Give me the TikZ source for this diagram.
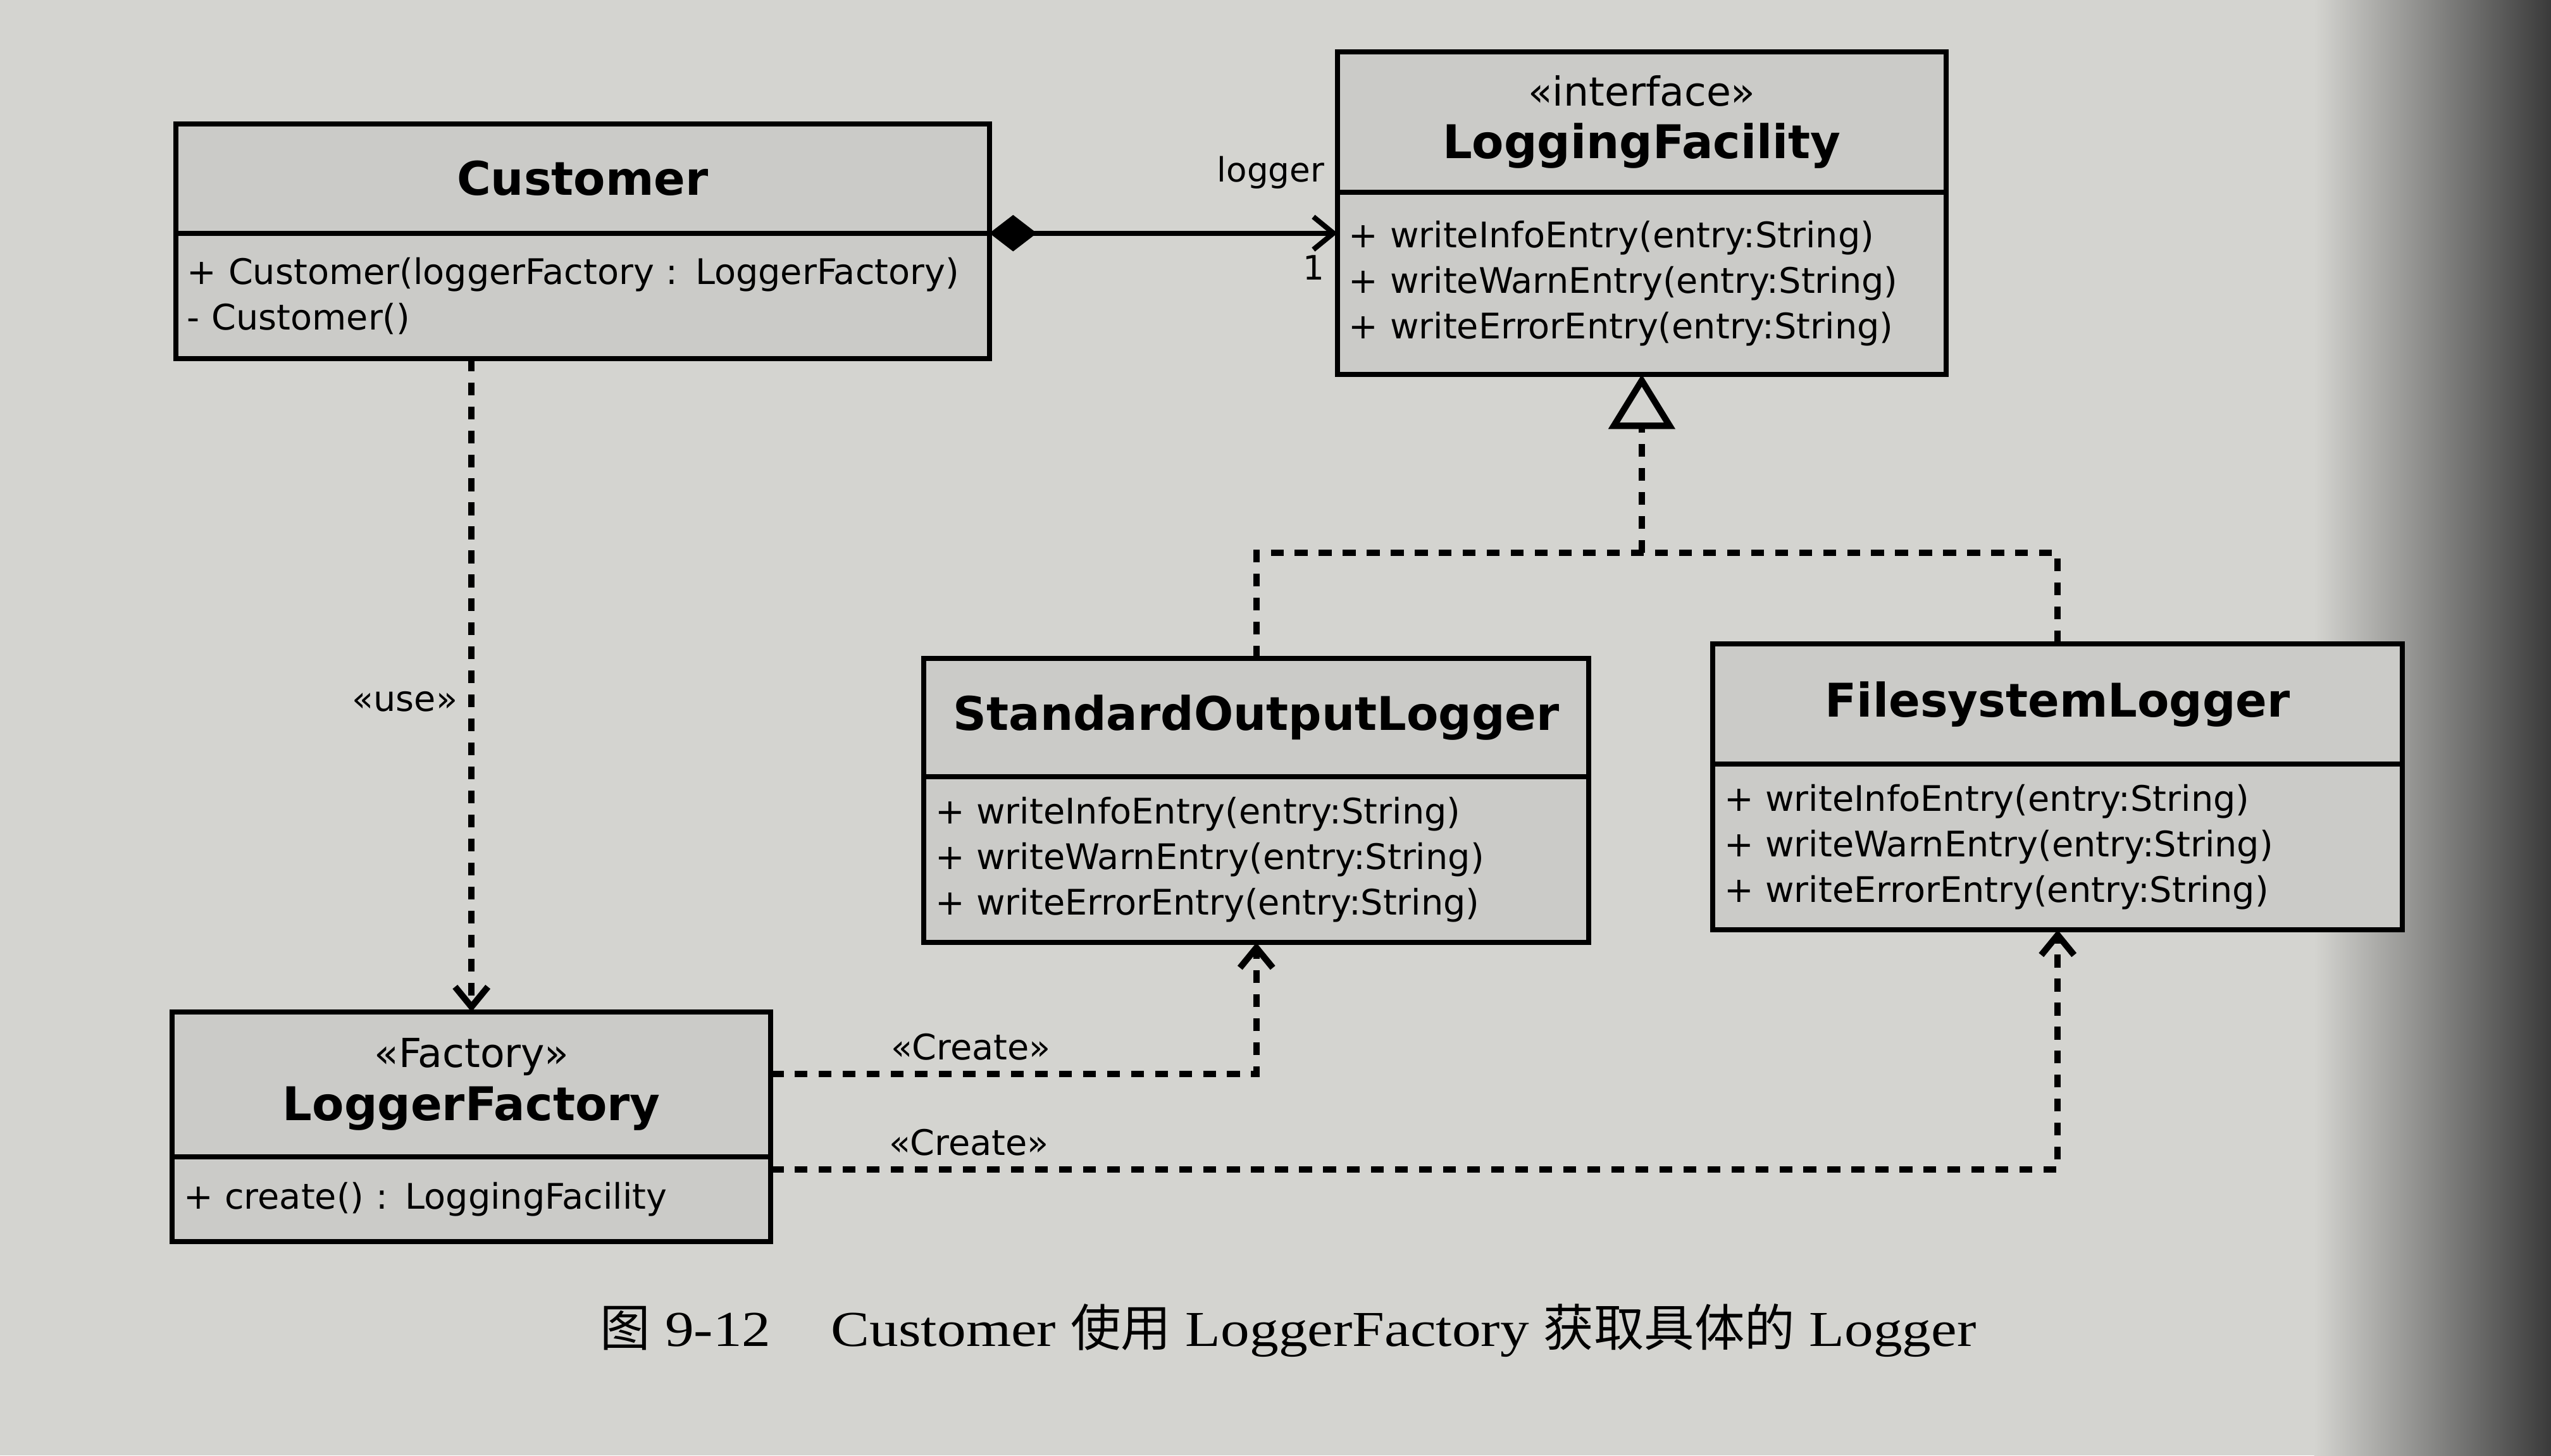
\documentclass[tikz,border=0pt]{standalone}
\usepackage{fontspec}
\newfontfamily\umlfont{DejaVu Sans}
\newfontfamily\capfont[FakeStretch=1.15]{Liberation Serif}
\newfontfamily\cjk{Noto Sans CJK SC}
\usetikzlibrary{positioning,arrows.meta}

\definecolor{pagegray}{RGB}{212,212,208}
\definecolor{boxgray}{RGB}{203,203,200}
\definecolor{shadowgray}{RGB}{58,58,58}

\tikzset{
  classname/.style={rectangle,draw,fill=boxgray,line width=1.6pt,outer sep=0pt,align=center,
    font=\umlfont\bfseries\fontsize{14.5}{16.5}\selectfont},
  classops/.style={rectangle,draw,fill=boxgray,line width=1.6pt,outer sep=0pt,inner xsep=0.125cm,
    align=left,font=\umlfont\fontsize{11}{14.2}\selectfont},
  assoc/.style={line width=1.6pt},
  depline/.style={line width=2pt,dash pattern=on 4pt off 3.5pt},
  edgelabel/.style={font=\umlfont\fontsize{11}{13}\selectfont},
  barb/.style={-{Straight Barb[length=0.22cm,width=0.36cm]}}
}
\newcommand{\stereo}[1]{{\mdseries\fontsize{12.5}{15}\selectfont «#1»}}

\begin{document}
\begin{tikzpicture}
    % page
    \fill[pagegray] (0,0) rectangle (28,-15.98);
    \shade[left color=pagegray,right color=shadowgray] (25.4,0) rectangle (28,-15.98);
    \useasboundingbox (0,0) rectangle (28,-15.98);

    % classes
    \node at (1.93,-1.36) [classname,anchor=north west,minimum width=8.93cm,minimum height=1.2cm] (cust) {Customer};
    \node [classops,below=0pt of cust,text width=8.68cm,minimum height=1.375cm] (custops) {+ Customer(loggerFactory : LoggerFactory)\\- Customer()};
    \node at (14.68,-0.57) [classname,anchor=north west,minimum width=6.68cm,minimum height=1.54cm] (lfac) {\stereo{interface}\\LoggingFacility};
    \node [classops,below=0pt of lfac,text width=6.43cm,minimum height=2cm] (lfops) {+ writeInfoEntry(entry:String)\\+ writeWarnEntry(entry:String)\\+ writeErrorEntry(entry:String)};
    \node at (10.14,-7.23) [classname,anchor=north west,minimum width=7.3cm,minimum height=1.3cm] (sol) {StandardOutputLogger};
    \node [classops,below=0pt of sol,text width=7.05cm,minimum height=1.82cm] (solops) {+ writeInfoEntry(entry:String)\\+ writeWarnEntry(entry:String)\\+ writeErrorEntry(entry:String)};
    \node at (18.8,-7.07) [classname,anchor=north west,minimum width=7.57cm,minimum height=1.32cm] (fl) {FilesystemLogger};
    \node [classops,below=0pt of fl,text width=7.32cm,minimum height=1.82cm] (flops) {+ writeInfoEntry(entry:String)\\+ writeWarnEntry(entry:String)\\+ writeErrorEntry(entry:String)};
    \node at (1.89,-11.11) [classname,anchor=north west,minimum width=6.57cm,minimum height=1.59cm] (lf) {\stereo{Factory}\\LoggerFactory};
    \node [classops,below=0pt of lf,text width=6.32cm,minimum height=0.93cm] (lfops2) {+ create() : LoggingFacility};

    % composition
    \draw[assoc,{Diamond[length=0.52cm,width=0.4cm]}-{Straight Barb[length=0.22cm,width=0.36cm]}] (cust.south east) -- (cust.south east -| lfops.west)
      node[pos=1,anchor=south east,yshift=0.34cm,edgelabel,font=\umlfont\fontsize{10.5}{12}\selectfont] {logger}
      node[pos=1,anchor=north east,yshift=-0.1cm,edgelabel,font=\umlfont\fontsize{10.5}{12}\selectfont] {1};

    % realization
    \coordinate[below=1.96cm of lfops] (fork);
    \draw[depline] (sol.north) |- (fork) -| (fl.north);
    \draw[depline,-{Triangle[open,length=0.6cm,width=0.72cm,fill=pagegray]}] (fork) -- (lfops.south);

    % dependencies
    \draw[depline,barb] (lf.north |- custops.south) -- (lf.north) node[pos=0.525,left,edgelabel] {«use»};
    \coordinate[below=0.68cm of lf.north east] (mkone);
    \draw[depline,barb] (mkone) -| (solops.south) node[pos=0.206,above,edgelabel] {«Create»};
    \coordinate[below=0.14cm of lfops2.north east] (mktwo);
    \draw[depline,barb] (mktwo) -| (flops.south) node[pos=0.077,above,edgelabel] {«Create»};

    % caption
    \node at (14.14,-14.61) [font=\capfont\fontsize{15.7}{18}\selectfont] (caption) {{\cjk 图} 9-12\hspace{1.2em}Customer {\cjk 使用} LoggerFactory {\cjk 获取具体的} Logger};
\end{tikzpicture}
\end{document}
